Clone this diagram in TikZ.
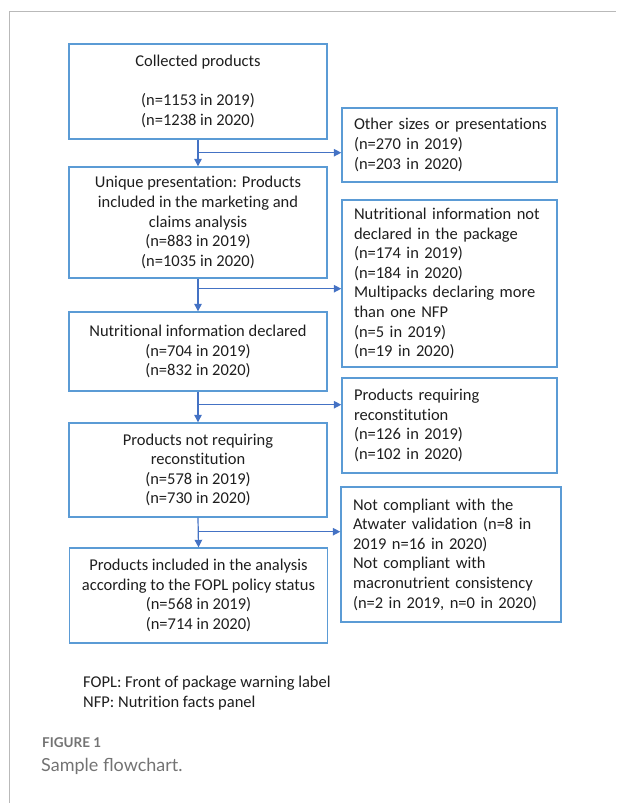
\documentclass[tikz,border=0pt]{standalone}
\usepackage{fontspec}
\setmainfont[Ligatures=NoCommon]{Carlito}
\newfontfamily\capfont{Lato}
\usetikzlibrary{arrows.meta,calc}
\definecolor{boxblue}{RGB}{91,155,213}
\definecolor{arrblue}{RGB}{68,114,196}
\definecolor{txt}{RGB}{30,30,30}
\definecolor{capgray}{RGB}{115,115,115}
\definecolor{framegray}{RGB}{185,185,185}
\hbadness=10000 \hfuzz=50pt
\begin{document}
\begin{tikzpicture}[x=1pt,y=-1pt,
  every node/.style={font=\fontsize{16.5}{19.6}\selectfont, text=txt},
  mainbox/.style={draw=boxblue, line width=1.4pt, minimum width=258pt, inner sep=0pt, align=center},
  sidebox/.style={draw=boxblue, line width=1.4pt, inner xsep=12pt, inner ysep=0pt, text width=191pt, align=left},
  flow/.style={draw=arrblue, line width=1.2pt, -{Triangle[length=7.5pt,width=7.5pt]}}
]
\useasboundingbox (0,0) rectangle (616,803);
\draw[framegray, line width=1pt] (9,803) -- (9,11) -- (616,11);

\node[mainbox, minimum height=95pt] (b1) at (198,91.5) {Collected products\\[19.6pt](n=1153 in 2019)\\(n=1238 in 2020)};
\node[mainbox, minimum height=111pt] (b2) at (198,222.5) {Unique presentation: Products\\included in the marketing and\\claims analysis\\(n=883 in 2019)\\(n=1035 in 2020)};
\node[mainbox, minimum height=79pt] (b3) at (198,351.5) {Nutritional information declared\\(n=704 in 2019)\\(n=832 in 2020)};
\node[mainbox, minimum height=94pt] (b4) at (198,470) {Products not requiring\\reconstitution\\(n=578 in 2019)\\(n=730 in 2020)};
\node[mainbox, minimum height=95pt] (b5) at (198.5,595.5) {Products included in the analysis\\according to the FOPL policy status\\(n=568 in 2019)\\(n=714 in 2020)};

\node[sidebox, minimum height=74pt] (r1) at (449.5,145) {\mbox{Other sizes or presentations}\\(n=270 in 2019)\\(n=203 in 2020)};
\node[sidebox, minimum height=167pt] (r2) at (449.5,283.5) {\mbox{Nutritional information not}\\declared in the package\\(n=174 in 2019)\\(n=184 in 2020)\\\mbox{Multipacks declaring more}\\than one NFP\\(n=5 in 2019)\\(n=19 in 2020)};
\node[sidebox, minimum height=95pt] (r3) at (449.5,425.5) {Products requiring\\reconstitution\\(n=126 in 2019)\\(n=102 in 2020)};
\node[sidebox, text width=196pt, minimum height=135pt] (r4) at (451,554.5) {Not compliant with the\\\mbox{Atwater validation (n=8 in}\\2019 n=16 in 2020)\\Not compliant with\\\mbox{macronutrient consistency}\\\mbox{(n=2 in 2019, n=0 in 2020)}};

\coordinate (j1) at ($(b1.south)+(0,13)$);
\coordinate (j2) at ($(b2.south)+(0,10)$);
\coordinate (j3) at ($(b3.south)+(0,13)$);
\coordinate (j4) at ($(b4.south)+(0,14)$);

\draw[flow] (b1.south) -- (b2.north);
\draw[flow] (b2.south) -- (b3.north);
\draw[flow] (b3.south) -- (b4.north);
\draw[flow] (b4.south) -- (b5.north);
\draw[flow] (j1) -- (j1 -| r1.west);
\draw[flow] (j2) -- (j2 -| r2.west);
\draw[flow] (j3) -- (j3 -| r3.west);
\draw[flow] (j4) -- (j4 -| r4.west);

\node[anchor=west, inner sep=0pt] (n1) at (83,683) {FOPL: Front of package warning label};
\node[anchor=west, inner sep=0pt] (n2) at (83,703) {NFP: Nutrition facts panel};
\node[anchor=west, inner sep=0pt, text=capgray, font=\capfont\bfseries\fontsize{13.5}{15}\selectfont] (f1) at (42,743) {FIGURE 1};
\node[anchor=west, inner sep=0pt, text=capgray, font=\capfont\fontsize{18}{20}\selectfont] (f2) at (41,766) {Sample flowchart.};
\end{tikzpicture}
\end{document}
